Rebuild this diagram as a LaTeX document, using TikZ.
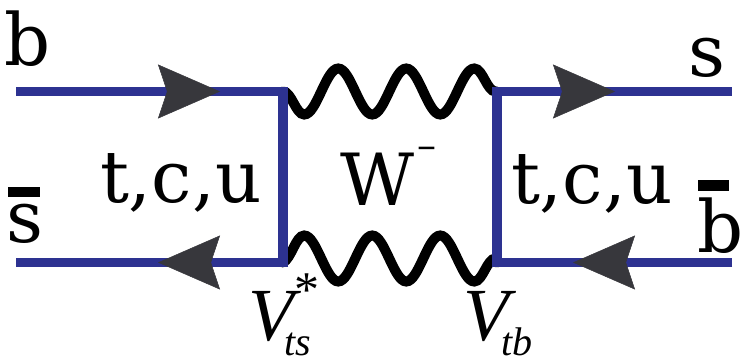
\documentclass[tikz,border=0pt]{standalone}
\usepackage{fontspec}
\usetikzlibrary{arrows.meta,decorations.pathmorphing,decorations.markings}
\newfontfamily\dvserif{DejaVu Serif}
\newfontfamily\lserif{Liberation Serif}
\newcommand\mylbl{\dvserif\fontsize{72}{80}\selectfont}
\newcommand\myV{\lserif\itshape\fontsize{75}{80}\selectfont}
\newcommand\mysub{\lserif\itshape\fontsize{40}{44}\selectfont}
\newcommand\mystar{\lserif\upshape\fontsize{50}{54}\selectfont}
\definecolor{quarkblue}{RGB}{45,50,145}
\definecolor{arrowgray}{RGB}{55,55,60}
\tikzset{
  quark/.style={draw=quarkblue, line width=9.5pt, line join=miter},
  boson/.style={draw=black, line width=10pt, line cap=round, decorate,
    decoration={snake, amplitude=23pt, segment length=68pt}},
  tiparrow/.tip={Stealth[length=62pt,width=54pt,inset=9pt,line width=0.5pt,color=arrowgray]},
  lbl/.style={inner sep=0pt, outer sep=0pt, anchor=base west, text=black}
}
\begin{document}
\begin{tikzpicture}[x=1pt,y=-1pt]
\useasboundingbox (0,0) rectangle (741,361);
% vertices and ends
\coordinate (v1) at (283,91.5);
\coordinate (v2) at (497,91.5);
\coordinate (v3) at (283,262.5);
\coordinate (v4) at (497,262.5);
\coordinate (bL) at (16,91.5);
\coordinate (sL) at (16,262.5);
\coordinate (sR) at (732,91.5);
\coordinate (bR) at (732,262.5);
% W bosons
\draw[boson, decoration={mirror}] (v1) -- (v2);
\draw[boson, decoration={raise=4pt}] (v3) -- (v4);
% quark lines
\draw[quark, postaction={decorate, decoration={markings,
    mark=at position 204pt with {\arrow{tiparrow}},
    mark=at position 563pt with {\arrow{tiparrow}}}}]
  (bL) -- (v1) -- (v3) -- (sL);
\draw[quark, postaction={decorate, decoration={markings,
    mark=at position 159pt with {\arrow{tiparrow}},
    mark=at position 524pt with {\arrow{tiparrow}}}}]
  (bR) -- (v4) -- (v2) -- (sR);
% labels
\node[lbl] (lb) at (5,66) {\mylbl b};
\node[lbl] (lsbar) at (6,242) {\mylbl\rlap{\kern2pt\rule[45pt]{32pt}{10pt}}s};
\node[lbl] (ls) at (688,77) {\mylbl s};
\node[lbl] (lbbar) at (697,252) {\mylbl\rlap{\kern1pt\rule[61pt]{31pt}{11pt}}b};
\node[lbl] (ltcu1) at (100,202) {\mylbl t,c,u};
\node[lbl] (ltcu2) at (511,203) {\mylbl t,c,u};
\node[lbl] (lW) at (340,205) {\mylbl W\kern3pt\raisebox{47pt}{\fontsize{38}{40}\selectfont –}};
\node[lbl] (lVts) at (248,340) {\myV V\rlap{\kern1pt\raisebox{34pt}{\mystar *}}\kern-9pt\raisebox{-15pt}{\mysub ts}};
\node[lbl] (lVtb) at (463,340) {\myV V\kern-7pt\raisebox{-15pt}{\mysub tb}};
\end{tikzpicture}
\end{document}
